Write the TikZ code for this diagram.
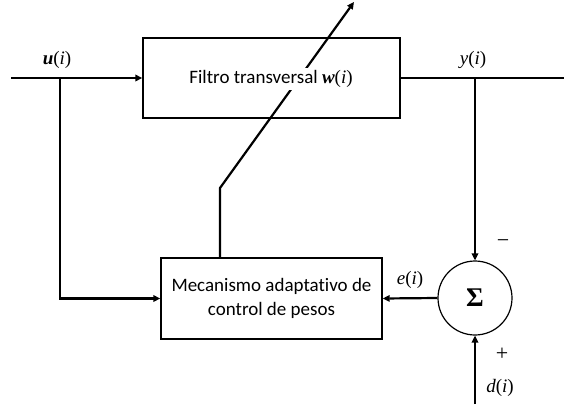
\documentclass[tikz,border=0pt]{standalone}
\usepackage{fontspec}
\setmainfont[Ligatures=NoCommon]{Carlito}
\newfontfamily\mf{Liberation Serif}
\newcommand{\vi}[1]{{\itshape #1}}
\newcommand{\vb}[1]{{\bfseries\itshape #1}}
\usetikzlibrary{arrows.meta,calc}
\begin{document}
\begin{tikzpicture}[x=1pt,y=-1pt,
  sig/.style={line width=2.2pt},
  arr/.style={sig,-{Triangle[length=7pt,width=6.5pt]}},
  blk/.style={draw,line width=1.4pt,inner sep=0pt},
  txt/.style={font=\fontsize{19}{24}\selectfont},
  lbl/.style={font=\mf\fontsize{19}{20}\selectfont,inner sep=1pt},
  sgn/.style={font=\mf\fontsize{22}{22}\selectfont,inner sep=1pt}]
\useasboundingbox (0,0) rectangle (564,404);
\node[blk, minimum width=257pt, minimum height=80pt] (filt) at (271.5,78) {};
\node[blk, minimum width=221pt, minimum height=81pt, txt, align=center] (mech) at (271.5,298.5) {Mecanismo adaptativo de\\control de pesos};
\node[draw, circle, line width=1.2pt, minimum size=74pt, inner sep=0pt, font=\mf\bfseries\fontsize{27}{28}\selectfont] (sum) at (475,298) {Σ};
\coordinate (in) at (11,78);
\coordinate (ub) at (60,78);
\coordinate (yb) at (475,78);
\coordinate (out) at (564,78);
\coordinate (din) at (475,404);
\coordinate (bend) at (220,188);
\coordinate (tip) at (354,2);
\draw[sig] (in) -- (ub);
\draw[arr] (ub) -- (filt.west);
\draw[arr] (ub) |- (mech.west);
\draw[sig] (filt.east) -- (out);
\draw[arr] (yb) -- (sum.north);
\draw[arr] (sum.west) -- (mech.east);
\draw[arr] (din) -- (sum.south);
\draw[arr] (mech.north -| bend) -- (bend) -- (tip);
\node[txt, fill=white, inner sep=2pt] (ftxt) at (271,79) {Filtro transversal {\mf\fontsize{19}{20}\selectfont\vb{w}(\vi{i})}};
\node[lbl] (ul) at (57,60) {\vb{u}(\vi{i})};
\node[lbl] (yl) at (473,60) {\vi{y}(\vi{i})};
\node[lbl] (el) at (410,280) {\vi{e}(\vi{i})};
\node[sgn] (ml) at (503,244) {−};
\node[sgn] (pl) at (502,354) {+};
\node[lbl] (dl) at (500,388) {\vi{d}(\vi{i})};
\end{tikzpicture}
\end{document}
